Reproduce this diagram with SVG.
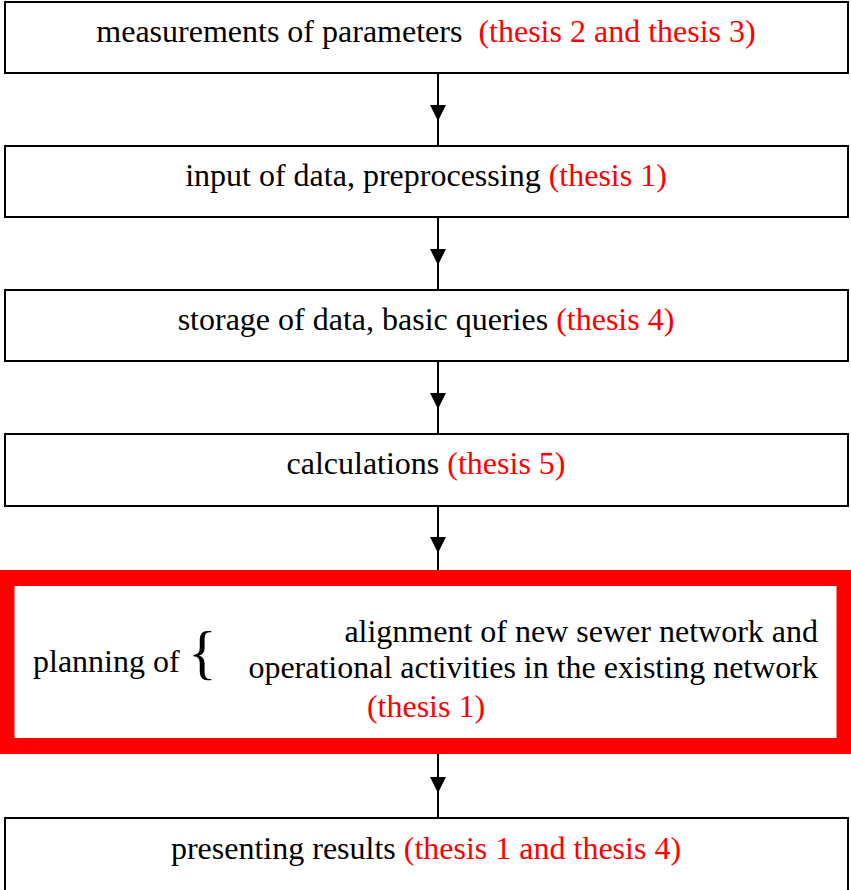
<svg xmlns="http://www.w3.org/2000/svg" width="851" height="890" viewBox="0 0 851 890">
<style>
.box{fill:#fff;stroke:#000;stroke-width:2}
.t{font-family:"Liberation Serif","Times New Roman",serif;font-size:32px;fill:#000}
.r{fill:#f00}
.c{stroke:#000;stroke-width:2;fill:none;marker-mid:url(#ah)}
</style>
<defs>
<marker id="ah" viewBox="0 0 16 16" refX="16" refY="8" markerWidth="16" markerHeight="16" markerUnits="userSpaceOnUse" orient="auto">
<path d="M0,0 L16,8 L0,16 Z" fill="#000"/>
</marker>
</defs>
<rect width="851" height="890" fill="#fff"/>
<g id="connectors">
<path class="c" d="M438,73 L438,121 L438,146"/>
<path class="c" d="M438,217 L438,265 L438,290"/>
<path class="c" d="M438,361 L438,409 L438,434"/>
<path class="c" d="M438,506 L438,553 L438,578"/>
<path class="c" d="M438,746 L438,793 L438,818"/>
</g>
<g id="n1">
<rect class="box" x="5" y="2" width="843" height="71"/>
<text class="t" x="426" y="42" text-anchor="middle">measurements of parameters <tspan class="r" dx="8">(thesis 2 and thesis 3)</tspan></text>
</g>
<g id="n2">
<rect class="box" x="5" y="146" width="843" height="71"/>
<text class="t" x="426" y="186" text-anchor="middle">input of data, preprocessing <tspan class="r">(thesis 1)</tspan></text>
</g>
<g id="n3">
<rect class="box" x="5" y="290" width="843" height="71"/>
<text class="t" x="426" y="330" text-anchor="middle">storage of data, basic queries <tspan class="r">(thesis 4)</tspan></text>
</g>
<g id="n4">
<rect class="box" x="5" y="434" width="843" height="72"/>
<text class="t" x="426" y="474" text-anchor="middle">calculations <tspan class="r">(thesis 5)</tspan></text>
</g>
<g id="n5">
<rect x="6.5" y="578" width="838" height="168" fill="#fff" stroke="#f00" stroke-width="16"/>
<text class="t" x="33" y="672">planning of</text>
<text x="188" y="672" font-family="Liberation Serif,serif" font-size="60" fill="#000">{</text>
<text class="t" x="818" y="642" text-anchor="end">alignment of new sewer network and</text>
<text class="t" x="818" y="678" text-anchor="end">operational activities in the existing network</text>
<text class="t r" x="426" y="717" text-anchor="middle">(thesis 1)</text>
</g>
<g id="n6">
<rect class="box" x="5" y="818" width="843" height="74"/>
<text class="t" x="426" y="859" text-anchor="middle">presenting results <tspan class="r">(thesis 1 and thesis 4)</tspan></text>
</g>
</svg>
